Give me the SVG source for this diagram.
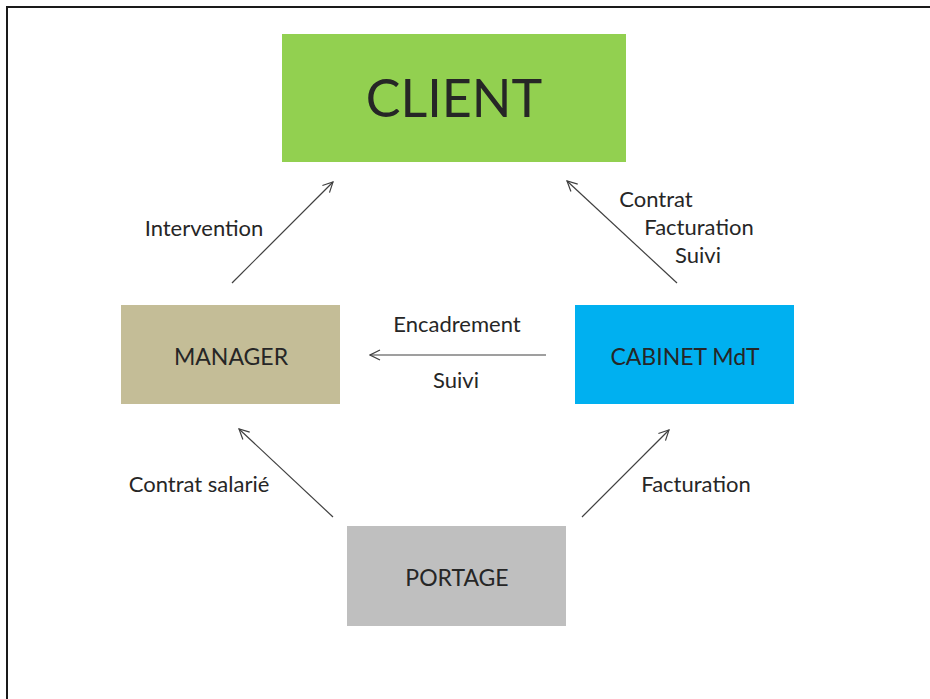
<svg xmlns="http://www.w3.org/2000/svg" width="930" height="699" viewBox="0 0 930 699">
  <style>
    .lbl { font-family: Lato, "Open Sans", sans-serif; fill: #262626; font-size: 22px; text-anchor: middle; }
    .node-text { font-family: Lato, "Open Sans", sans-serif; fill: #262626; text-anchor: middle; }
    .conn { stroke: #404040; stroke-width: 1.2; fill: none; marker-end: url(#arrow); }
  </style>
  <defs>
    <marker id="arrow" viewBox="0 0 12 12" refX="11" refY="6" markerWidth="12" markerHeight="12" markerUnits="userSpaceOnUse" orient="auto">
      <path d="M1,1 L11,6 L1,11" fill="none" stroke="#404040" stroke-width="1.2"/>
    </marker>
  </defs>
  <rect width="930" height="699" fill="#ffffff"/>
  <!-- page frame (right and bottom edges fall outside the canvas) -->
  <rect x="7" y="7" width="940" height="720" fill="none" stroke="#1a1a1a" stroke-width="2"/>

  <g id="client">
    <rect x="282" y="34" width="344" height="128" fill="#92D050"/>
    <text class="node-text" x="454" y="117" font-size="52">CLIENT</text>
  </g>
  <g id="manager">
    <rect x="121" y="305" width="219" height="99" fill="#C4BD97"/>
    <text class="node-text" x="231" y="365" font-size="23">MANAGER</text>
  </g>
  <g id="cabinet">
    <rect x="575" y="305" width="219" height="99" fill="#00B0F0"/>
    <text class="node-text" x="685" y="365" font-size="23">CABINET MdT</text>
  </g>
  <g id="portage">
    <rect x="347" y="526" width="219" height="100" fill="#BFBFBF"/>
    <text class="node-text" x="457" y="586" font-size="23">PORTAGE</text>
  </g>

  <g id="connectors">
    <line class="conn" x1="232" y1="283" x2="333" y2="182"/>
    <line class="conn" x1="677" y1="283" x2="567" y2="181"/>
    <line class="conn" x1="546" y1="355" x2="370" y2="355"/>
    <line class="conn" x1="333" y1="517" x2="239" y2="429"/>
    <line class="conn" x1="582" y1="517" x2="669" y2="430"/>
    <text class="lbl" x="204" y="236">Intervention</text>
    <text class="lbl" x="656" y="207">Contrat</text>
    <text class="lbl" x="699" y="235">Facturation</text>
    <text class="lbl" x="698" y="263">Suivi</text>
    <text class="lbl" x="457" y="332">Encadrement</text>
    <text class="lbl" x="456" y="388">Suivi</text>
    <text class="lbl" x="199" y="492">Contrat salarié</text>
    <text class="lbl" x="696" y="492">Facturation</text>
  </g>
</svg>
